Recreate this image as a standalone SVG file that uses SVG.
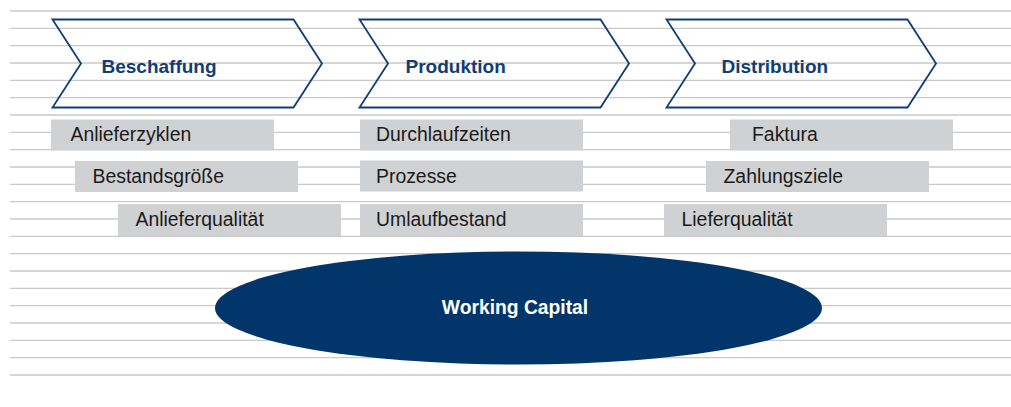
<svg xmlns="http://www.w3.org/2000/svg" width="1011" height="407" viewBox="0 0 1011 407">
  <style>
    .rule { stroke: #c9c9c9; stroke-width: 1.3; }
    .chev { fill: none; stroke: #0f3d75; stroke-width: 1.8; stroke-linejoin: miter; }
    .chev-label { font-family: "Liberation Sans", Arial, sans-serif; font-size: 19px; font-weight: bold; fill: #0f3d75; }
    .box { fill: #d0d1d3; }
    .box-label { font-family: "Liberation Sans", Arial, sans-serif; font-size: 19.4px; fill: #1a1a1a; }
    .core { fill: #02366b; }
    .core-label { font-family: "Liberation Sans", Arial, sans-serif; font-size: 19.3px; font-weight: bold; fill: #ffffff; }
  </style>

  <!-- ruled background -->
  <g id="rules">
    <line class="rule" x1="10" y1="11" x2="1011" y2="11"/>
    <line class="rule" x1="10" y1="28.3" x2="1011" y2="28.3"/>
    <line class="rule" x1="10" y1="45.7" x2="1011" y2="45.7"/>
    <line class="rule" x1="10" y1="63" x2="1011" y2="63"/>
    <line class="rule" x1="10" y1="80.3" x2="1011" y2="80.3"/>
    <line class="rule" x1="10" y1="97.7" x2="1011" y2="97.7"/>
    <line class="rule" x1="10" y1="115" x2="1011" y2="115"/>
    <line class="rule" x1="10" y1="132.3" x2="1011" y2="132.3"/>
    <line class="rule" x1="10" y1="149.6" x2="1011" y2="149.6"/>
    <line class="rule" x1="10" y1="167" x2="1011" y2="167"/>
    <line class="rule" x1="10" y1="184.3" x2="1011" y2="184.3"/>
    <line class="rule" x1="10" y1="201.6" x2="1011" y2="201.6"/>
    <line class="rule" x1="10" y1="219" x2="1011" y2="219"/>
    <line class="rule" x1="10" y1="236.3" x2="1011" y2="236.3"/>
    <line class="rule" x1="10" y1="253.6" x2="1011" y2="253.6"/>
    <line class="rule" x1="10" y1="271" x2="1011" y2="271"/>
    <line class="rule" x1="10" y1="288.3" x2="1011" y2="288.3"/>
    <line class="rule" x1="10" y1="305.6" x2="1011" y2="305.6"/>
    <line class="rule" x1="10" y1="323" x2="1011" y2="323"/>
    <line class="rule" x1="10" y1="340.3" x2="1011" y2="340.3"/>
    <line class="rule" x1="10" y1="357.6" x2="1011" y2="357.6"/>
    <line class="rule" x1="10" y1="375" x2="1011" y2="375"/>
  </g>

  <!-- process chevrons -->
  <g id="beschaffung">
    <polygon class="chev" points="52.5,19.5 293.5,19.5 322,63.5 293.5,107.5 52.5,107.5 81,63.5"/>
    <text class="chev-label" x="101.5" y="73">Beschaffung</text>
  </g>
  <g id="produktion">
    <polygon class="chev" points="359.5,19.5 600.5,19.5 629,63.5 600.5,107.5 359.5,107.5 388,63.5"/>
    <text class="chev-label" x="405.5" y="73">Produktion</text>
  </g>
  <g id="distribution">
    <polygon class="chev" points="666.5,19.5 907.5,19.5 936,63.5 907.5,107.5 666.5,107.5 695,63.5"/>
    <text class="chev-label" x="721.5" y="73">Distribution</text>
  </g>

  <!-- factor boxes: Beschaffung -->
  <g id="anlieferzyklen">
    <rect class="box" x="51" y="119.5" width="223" height="31"/>
    <text class="box-label" x="70.5" y="141">Anlieferzyklen</text>
  </g>
  <g id="bestandsgroesse">
    <rect class="box" x="75" y="161" width="223" height="31"/>
    <text class="box-label" x="92.5" y="183">Bestandsgröße</text>
  </g>
  <g id="anlieferqualitaet">
    <rect class="box" x="118" y="204" width="223" height="32"/>
    <text class="box-label" x="135.5" y="226">Anlieferqualität</text>
  </g>

  <!-- factor boxes: Produktion -->
  <g id="durchlaufzeiten">
    <rect class="box" x="360" y="119.5" width="223" height="31"/>
    <text class="box-label" x="376" y="141">Durchlaufzeiten</text>
  </g>
  <g id="prozesse">
    <rect class="box" x="360" y="160.5" width="223" height="31"/>
    <text class="box-label" x="376" y="183">Prozesse</text>
  </g>
  <g id="umlaufbestand">
    <rect class="box" x="360" y="204" width="223" height="32"/>
    <text class="box-label" x="376" y="226">Umlaufbestand</text>
  </g>

  <!-- factor boxes: Distribution -->
  <g id="faktura">
    <rect class="box" x="730" y="119.5" width="223" height="31"/>
    <text class="box-label" x="752" y="141">Faktura</text>
  </g>
  <g id="zahlungsziele">
    <rect class="box" x="706" y="161" width="223" height="31"/>
    <text class="box-label" x="723.5" y="183">Zahlungsziele</text>
  </g>
  <g id="lieferqualitaet">
    <rect class="box" x="664" y="204" width="223" height="32"/>
    <text class="box-label" x="681.5" y="226">Lieferqualität</text>
  </g>

  <!-- central result -->
  <g id="working-capital">
    <ellipse class="core" cx="518.5" cy="308" rx="303.5" ry="56.5"/>
    <text class="core-label" x="515" y="313.5" text-anchor="middle">Working Capital</text>
  </g>

  <g id="connectors"></g>
</svg>
